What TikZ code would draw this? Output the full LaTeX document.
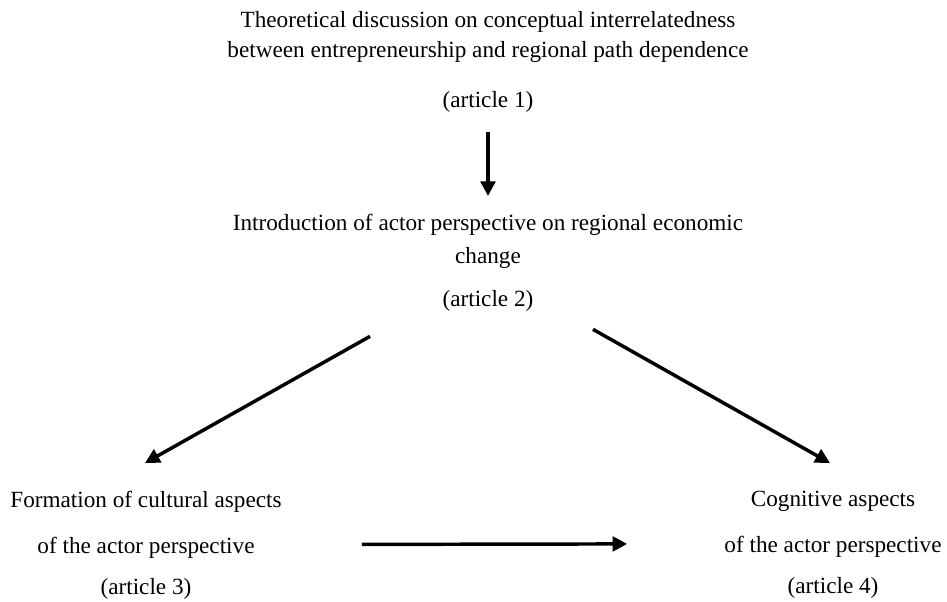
\documentclass[tikz,border=0pt]{standalone}
\usepackage{fontspec}
\setmainfont{Liberation Serif}
\usetikzlibrary{arrows.meta,calc}

\begin{document}
\begin{tikzpicture}[x=0.75pt, y=-0.75pt, >={Triangle[length=11pt,width=11pt]}]
  \tikzset{txt/.style={inner sep=0pt, align=center, font=\fontsize{17.4pt}{22.5pt}\selectfont},
           arr/.style={->, line width=2.6pt}}
  \useasboundingbox (0,0) rectangle (947,601);
  % article nodes
  \node[txt, anchor=north] (art1) at (488,11) {Theoretical discussion on conceptual interrelatedness\\between entrepreneurship and regional path dependence\\[15pt](article 1)};
  \node[txt, anchor=north] (art2) at (488,214) {Introduction of actor perspective on regional economic\\[2.25pt]change\\[9.4pt](article 2)};
  \node[txt, anchor=north] (art3) at (146,491) {Formation of cultural aspects\\[12pt]of the actor perspective\\[8.25pt](article 3)};
  \node[txt, anchor=north] (art4) at (833,491) {Cognitive aspects\\[12pt]of the actor perspective\\[8.25pt](article 4)};
  % connectors
  \draw[arr] ($(art1.south)+(0,19)$) -- ($(art2.north)+(0,-18)$);
  \draw[arr] ($(art2.south)+(-118,25)$) -- ($(art3.north)+(-1,-28)$);
  \draw[arr] ($(art2.south)+(105,18)$) -- ($(art4.north)+(-3,-28)$);
  \draw[arr] ($(art3.east)+(80,-1)$) -- ($(art4.west)+(-97,-1)$);
\end{tikzpicture}
\end{document}
